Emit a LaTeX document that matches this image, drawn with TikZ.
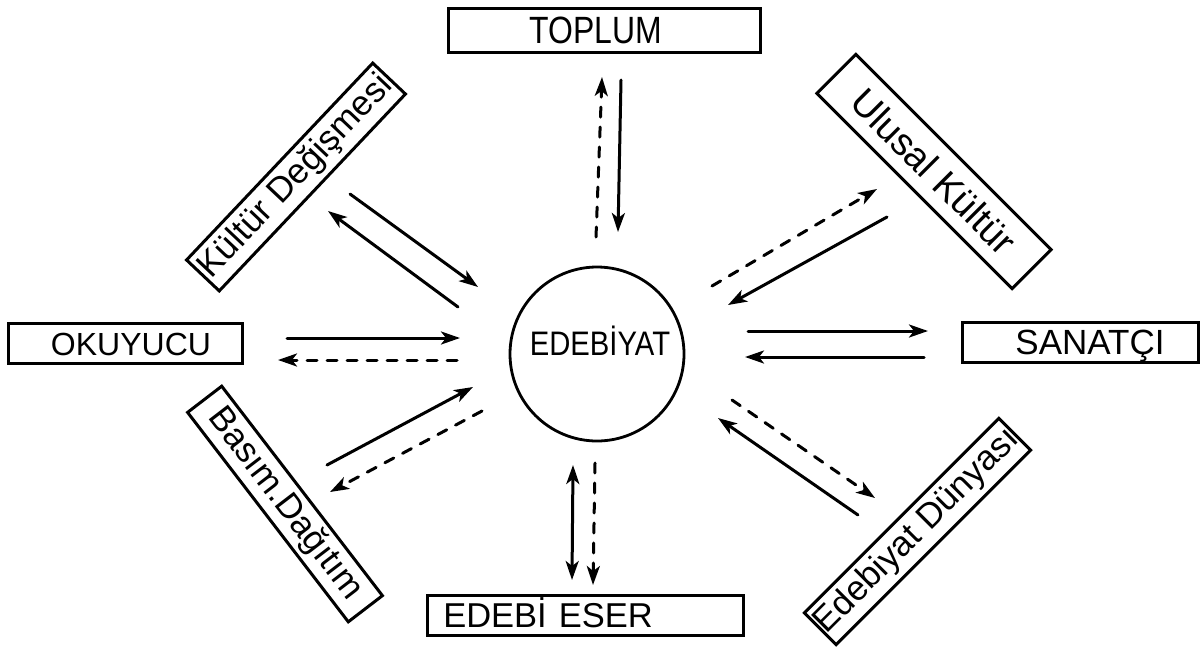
\documentclass[tikz,border=0pt]{standalone}
\usepackage{fontspec}
\setmainfont{Liberation Sans}
\usetikzlibrary{arrows.meta}
\begin{document}
\begin{tikzpicture}[x=1pt,y=-1pt,
  box/.style={draw, line width=3pt, inner sep=0pt},
  lbl/.style={inner sep=0pt, anchor=base},
  rbox/.style={box, minimum height=45pt, font=\fontsize{35}{40}\selectfont},
  tip/.style={},
  sarrow/.style={line width=3pt, line cap=round, -{Stealth[length=19pt,width=13pt,inset=5pt]}},
  sboth/.style={line width=3pt, {Stealth[length=19pt,width=13pt,inset=5pt]}-{Stealth[length=19pt,width=13pt,inset=5pt]}},
  darrow/.style={sarrow, dash pattern=on 10pt off 10pt},
]
\useasboundingbox (0,0) rectangle (1204,651);

% central circle
\node[draw, circle, line width=2.8pt, minimum size=174pt, inner sep=0pt] (edeb) at (597,354) {};
\node[lbl] (edebT) at (600,355) {\fontsize{34}{36}\selectfont\scalebox{0.86}[1]{EDEBİYAT}};

% horizontal boxes
\node[box, minimum width=312pt, minimum height=44pt] (toplum) at (604,30) {};
\node[lbl] (toplumT) at (596,43) {\fontsize{38}{40}\selectfont\scalebox{0.84}[1]{TOPLUM}};

\node[box, minimum width=234pt, minimum height=40pt] (okuyucu) at (125,343) {};
\node[lbl] (okuyucuT) at (131,355) {\fontsize{32}{36}\selectfont OKUYUCU};

\node[box, minimum width=236pt, minimum height=40pt] (sanatci) at (1080,342) {};
\node[lbl] (sanatciT) at (1090,354.5) {\fontsize{35}{38}\selectfont SANATÇI};

\node[box, minimum width=316pt, minimum height=40pt] (eser) at (585,615) {};
\node[lbl] (eserT) at (548,627) {\fontsize{34.5}{36}\selectfont EDEBİ\hspace{12pt}ESER};

% rotated boxes
\node[rbox, rotate=46.6, minimum width=271pt] (kultur) at (296,177) {Kültür Değişmesi};
\node[rbox, rotate=-45, minimum width=276pt, minimum height=55pt, font=\fontsize{38}{42}\selectfont] (ulusal) at (934,171.5) {Ulusal Kültür};
\node[rbox, rotate=-52.5, minimum width=264pt, minimum height=43pt] (basim) at (285,504) {Basım.Dağıtım};
\node[rbox, rotate=45, minimum width=275pt] (dunya) at (917.5,531.5) {Edebiyat Dünyası};

% arrow end points
\coordinate (t1a) at (596,237); \coordinate (t1b) at (602,77);
\coordinate (t2a) at (621,80);  \coordinate (t2b) at (618,232);
\coordinate (e1a) at (573,465); \coordinate (e1b) at (572,580);
\coordinate (e2a) at (595,463); \coordinate (e2b) at (593,585);
\coordinate (o1a) at (287,338); \coordinate (o1b) at (460,338);
\coordinate (o2a) at (457,360); \coordinate (o2b) at (278,360);
\coordinate (s1a) at (748,331); \coordinate (s1b) at (928,331);
\coordinate (s2a) at (924,357); \coordinate (s2b) at (745,357);
\coordinate (k1a) at (458,307); \coordinate (k1b) at (328,211);
\coordinate (k2a) at (350,194); \coordinate (k2b) at (478,287);
\coordinate (b1a) at (327,465); \coordinate (b1b) at (473,387);
\coordinate (b2a) at (482,411); \coordinate (b2b) at (330,492);
\coordinate (u1a) at (712,286); \coordinate (u1b) at (877,189);
\coordinate (u2a) at (887,217); \coordinate (u2b) at (728,305);
\coordinate (d1a) at (858,515); \coordinate (d1b) at (718,418);
\coordinate (d2a) at (732,400); \coordinate (d2b) at (875,498);

% arrows
\draw[darrow] (t1a) -- (t1b);
\draw[sarrow] (t2a) -- (t2b);
\draw[sboth]  (e1a) -- (e1b);
\draw[darrow] (e2a) -- (e2b);
\draw[sarrow] (o1a) -- (o1b);
\draw[darrow] (o2a) -- (o2b);
\draw[sarrow] (s1a) -- (s1b);
\draw[sarrow] (s2a) -- (s2b);
\draw[sarrow] (k1a) -- (k1b);
\draw[sarrow] (k2a) -- (k2b);
\draw[sarrow] (b1a) -- (b1b);
\draw[darrow] (b2a) -- (b2b);
\draw[darrow] (u1a) -- (u1b);
\draw[sarrow] (u2a) -- (u2b);
\draw[sarrow] (d1a) -- (d1b);
\draw[darrow] (d2a) -- (d2b);
\end{tikzpicture}
\end{document}
